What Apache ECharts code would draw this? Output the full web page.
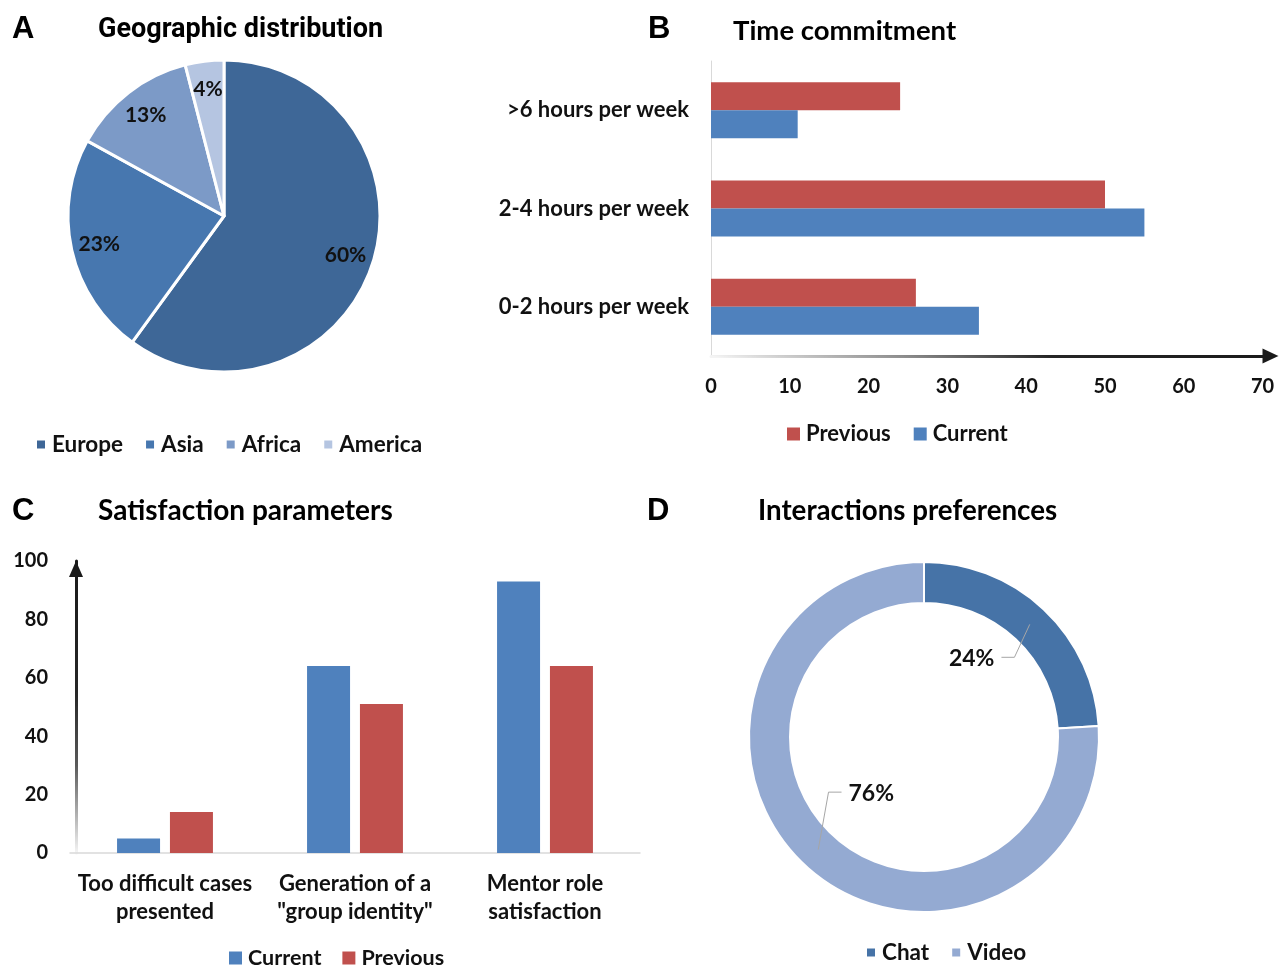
<!DOCTYPE html>
<html><head><meta charset="utf-8">
<script src="https://cdn.jsdelivr.net/npm/echarts@6/dist/echarts.min.js"></script>
<style>html,body{margin:0;padding:0;background:#fff}#c{width:1286px;height:965px}</style>
</head><body><div id="c"></div>
<script>
// ---------------- DATA ----------------
const geoNames = ['Europe', 'Asia', 'Africa', 'America'];
const geoValues = [60, 23, 13, 4];

const timeCategories = ['0-2 hours per week', '2-4 hours per week', '>6 hours per week'];
const timePrevious = [26, 50, 24];
const timeCurrent = [34, 55, 11];
const timeTicks = [0, 10, 20, 30, 40, 50, 60, 70];

const satCategories = ['Too difficult cases\npresented', 'Generation of a\n"group identity"', 'Mentor role\nsatisfaction'];
const satCurrent = [5, 64, 93];
const satPrevious = [14, 51, 64];
const satTicks = [0, 20, 40, 60, 80, 100];

const interNames = ['Chat', 'Video'];
const interValues = [24, 76];

// ---------------- STYLE ----------------
const FONT = 'Lato';
const TXT = '#111';
const RED = '#C0504D';
const BLUE = '#4F81BD';
const geoColors = ['#3E6797', '#4777AF', '#7C9AC7', '#B5C5E1'];
const interColors = ['#4673A7', '#94AAD2'];
const A_CENTER = [224, 216], A_R = 156;
const D_CENTER = [924, 737], D_R0 = 134, D_R1 = 175;
const D_LABEL_R = [92, 77];
const D_LABEL_ANG = [-12, 0];

const txt = (size, extra) => Object.assign({fontFamily: FONT, fontWeight: 'bold', fontSize: size, color: TXT}, extra || {});

function letter(t, l, tp) {
  return {text: t, left: l, top: tp, padding: 0,
    textStyle: {fontFamily: 'Liberation Sans', fontWeight: 'bold', fontSize: 31, color: '#000'}};
}
function ttl(t, l, tp, fam, size) {
  return {text: t, left: l, top: tp, padding: 0,
    textStyle: {fontFamily: fam, fontWeight: 'bold', fontSize: size, color: '#000'}};
}
function legend(data, left, top, sq, gap, size) {
  return {data: data, left: left, top: top, padding: 0, icon: 'rect', itemWidth: sq, itemHeight: sq,
    itemGap: gap, selectedMode: false, textStyle: txt(size || 22, {padding: [0, 0, 0, 1]})};
}

function donutLabelLayout(params) {
  const i = params.dataIndex;
  const total = interValues.reduce((a, b) => a + b, 0);
  let before = 0;
  for (let k = 0; k < i; k++) before += interValues[k];
  const mid = (before + interValues[i] / 2) / total * 2 * Math.PI;
  const cx = D_CENTER[0], cy = D_CENTER[1];
  const ringR = (D_R0 + D_R1) / 2;
  const p0 = [cx + ringR * Math.sin(mid), cy - ringR * Math.cos(mid)];
  const la = mid + D_LABEL_ANG[i] * Math.PI / 180;
  const lr = D_LABEL_R[i];
  const lx = cx + lr * Math.sin(la), ly = cy - lr * Math.cos(la);
  const w = params.labelRect.width;
  const side = Math.sin(mid) >= 0 ? 1 : -1;
  const edge = lx + side * w / 2;
  const p2 = [edge + side * 7, ly - 1];
  const p1 = [edge + side * 20, ly - 1];
  return {x: lx, y: ly, align: 'center', verticalAlign: 'middle', labelLinePoints: [p0, p1, p2]};
}

const tInt = timeTicks[1] - timeTicks[0];
const sInt = satTicks[1] - satTicks[0];
const B_LEFT = 711, B_TOP = 61, B_H = 295, B_UNIT = 7.88;
const B_MAX = timeTicks[timeTicks.length - 1] + 1;
const B_GRAD_END = 1272;

// Horizontal fade gradient along the axis line; the tilt keeps the arrow head (drawn in local coords) dark.
function fadeGradientH() {
  const a = 1 / (B_GRAD_END - B_LEFT), b = -0.008;
  const n = a * a + b * b;
  const x0 = B_LEFT, y0 = B_TOP + B_H;
  return {type: 'linear', global: true, x: x0, y: y0, x2: x0 + a / n, y2: y0 + b / n,
    colorStops: [{offset: 0, color: '#f4f4f4'}, {offset: 0.35, color: '#8a8a8a'}, {offset: 0.6, color: '#262626'}, {offset: 1, color: '#1a1a1a'}]};
}

const chart = echarts.init(document.getElementById('c'), null, {renderer: 'canvas'});
const option = {
  animation: false,
  backgroundColor: '#fff',
  title: [
    letter('A', 12, 14), ttl('Geographic distribution', 98, 17, 'Roboto', 27),
    letter('B', 648, 14), ttl('Time commitment', 733, 17, FONT, 27.5),
    letter('C', 12, 496), ttl('Satisfaction parameters', 98, 497, FONT, 28),
    letter('D', 647, 496), ttl('Interactions preferences', 758, 497, FONT, 27.7)
  ],
  legend: [
    legend(geoNames, 35, 433, 10, 21, 22.5),
    legend(['Previous', 'Current'], 787, 423, 13, 23),
    legend(['Current', 'Previous'], 229, 947, 13, 21, 21.5),
    legend(interNames, 865, 941, 10, 21, 22.5)
  ],
  grid: [
    {left: B_LEFT, top: B_TOP, width: B_MAX * B_UNIT, height: B_H},
    {left: 70, top: 561, width: 570, height: 292}
  ],
  xAxis: [
    {gridIndex: 0, type: 'value', min: timeTicks[0], max: B_MAX, interval: tInt,
      axisLine: {show: true, symbol: ['none', 'triangle'], symbolSize: [15, 16],
        lineStyle: {width: 3, color: fadeGradientH()}},
      axisTick: {show: false}, splitLine: {show: false},
      axisLabel: Object.assign(txt(20), {margin: 21, showMaxLabel: false})},
    {gridIndex: 1, type: 'category', data: satCategories,
      axisLine: {show: true, lineStyle: {color: '#D9D9D9', width: 1.5}},
      axisTick: {show: false},
      axisLabel: Object.assign(txt(22), {interval: 0, margin: 17, lineHeight: 28})}
  ],
  yAxis: [
    {gridIndex: 0, type: 'category', data: timeCategories,
      axisLine: {show: true, lineStyle: {color: '#D9D9D9', width: 1}},
      axisTick: {show: false},
      axisLabel: Object.assign(txt(22), {margin: 22})},
    {gridIndex: 1, type: 'value', min: satTicks[0], max: satTicks[satTicks.length - 1], interval: sInt, offset: -6,
      axisLine: {show: true, symbol: ['none', 'triangle'], symbolSize: [14, 16], symbolOffset: [0, -8],
        lineStyle: {width: 3, color: {type: 'linear', x: 0, y: 853, x2: 0, y2: 561, global: true,
          colorStops: [{offset: 0, color: '#f4f4f4'}, {offset: 0.3, color: '#5a5a5a'}, {offset: 0.55, color: '#262626'}, {offset: 1, color: '#1a1a1a'}]}}},
      axisTick: {show: false}, splitLine: {show: false},
      axisLabel: Object.assign(txt(20), {margin: 28})}
  ],
  series: [
    {type: 'pie', name: 'Geographic', center: A_CENTER, radius: [0, A_R], startAngle: 90, clockwise: true,
      silent: true, label: {show: false}, labelLine: {show: false},
      itemStyle: {borderColor: '#fff', borderWidth: 3},
      data: geoNames.map((n, i) => ({name: n, value: geoValues[i], itemStyle: {color: geoColors[i]}}))},
    {type: 'pie', name: 'GeographicLabels', center: A_CENTER, radius: [A_R * 0.6, A_R], startAngle: 90, clockwise: true,
      silent: true, itemStyle: {color: 'rgba(0,0,0,0)', borderWidth: 0},
      label: Object.assign(txt(21), {show: true, position: 'inside', formatter: '{c}%'}),
      labelLine: {show: false},
      data: geoNames.map((n, i) => ({name: n, value: geoValues[i]}))},
    {type: 'bar', name: 'Previous', xAxisIndex: 0, yAxisIndex: 0, data: timePrevious,
      barWidth: 28, barGap: '0%', itemStyle: {color: RED}},
    {type: 'bar', name: 'Current', xAxisIndex: 0, yAxisIndex: 0, data: timeCurrent,
      barWidth: 28, barGap: '0%', itemStyle: {color: BLUE}},
    {type: 'bar', name: 'Current', xAxisIndex: 1, yAxisIndex: 1, data: satCurrent,
      barWidth: 43, barGap: '23%', itemStyle: {color: BLUE}},
    {type: 'bar', name: 'Previous', xAxisIndex: 1, yAxisIndex: 1, data: satPrevious,
      barWidth: 43, barGap: '23%', itemStyle: {color: RED}},
    {type: 'pie', name: 'Interactions', center: D_CENTER, radius: [D_R0, D_R1], startAngle: 90, clockwise: true,
      silent: true, itemStyle: {borderColor: '#fff', borderWidth: 2},
      label: {show: false}, labelLine: {show: false},
      data: interNames.map((n, i) => ({name: n, value: interValues[i], itemStyle: {color: interColors[i]}}))},
    {type: 'pie', name: 'InteractionsLabels', z: 5, center: D_CENTER, radius: [D_R0, D_R1], startAngle: 90, clockwise: true,
      silent: true, itemStyle: {color: 'rgba(0,0,0,0)', borderWidth: 0},
      label: Object.assign(txt(23), {show: true, position: 'outside', formatter: '{c}%'}),
      labelLine: {show: true, showAbove: true, length: 5, length2: 5, lineStyle: {color: '#A6A6A6', width: 1}},
      labelLayout: donutLabelLayout,
      data: interNames.map((n, i) => ({name: n, value: interValues[i]}))}
  ]
};
chart.setOption(option);
</script></body></html>
